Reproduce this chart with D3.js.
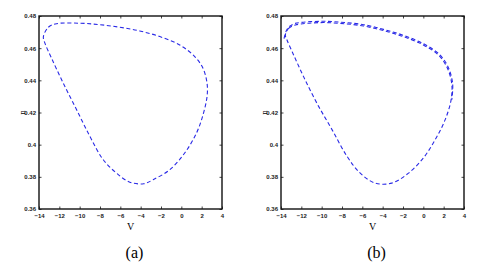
<!DOCTYPE html>
<html>
<head>
<meta charset="utf-8">
<script src="https://cdn.jsdelivr.net/npm/d3@7"></script>
<style>
  body { margin: 0; background: #fff; }
  .tick text { font-family: "Liberation Sans", Arial, sans-serif; font-weight: bold; font-size: 6px; fill: #222; }
</style>
</head>
<body>
<svg width="485" height="268"></svg>
<script>
// V and n, panel (a)
const loopA = [
    {v: -13.57, n: 0.4670}, {v: -13.08, n: 0.4730}, {v: -12.27, n: 0.4752},
    {v: -9.97, n: 0.4755}, {v: -8.01, n: 0.4746}, {v: -6.05, n: 0.4730},
    {v: -4.09, n: 0.4707}, {v: -2.12, n: 0.4672}, {v: -0.16, n: 0.4620},
    {v: 1.31, n: 0.4548}, {v: 2.13, n: 0.4475}, {v: 2.53, n: 0.4382},
    {v: 2.53, n: 0.4300}, {v: 2.13, n: 0.4185}, {v: 1.48, n: 0.4071},
    {v: 0.33, n: 0.3948}, {v: -1.14, n: 0.3844}, {v: -2.78, n: 0.3782},
    {v: -3.70, n: 0.3757}, {v: -5.07, n: 0.3767}, {v: -6.38, n: 0.3823},
    {v: -7.68, n: 0.3906}, {v: -8.99, n: 0.4051}, {v: -10.30, n: 0.4217},
    {v: -11.61, n: 0.4382}, {v: -12.76, n: 0.4537}, {v: -13.41, n: 0.4630}
];

// panel (b), main loop
const loopB = [
    {v: -13.57, n: 0.4682}, {v: -13.25, n: 0.4723}, {v: -12.59, n: 0.4744},
    {v: -10.14, n: 0.4759}, {v: -8.18, n: 0.4754}, {v: -5.88, n: 0.4738},
    {v: -3.92, n: 0.4709}, {v: -1.96, n: 0.4672}, {v: 0.0, n: 0.4620},
    {v: 1.47, n: 0.4558}, {v: 2.30, n: 0.4485}, {v: 2.79, n: 0.4382},
    {v: 2.73, n: 0.4279}, {v: 2.14, n: 0.4154}, {v: 1.16, n: 0.4030},
    {v: 0.0, n: 0.3917}, {v: -1.46, n: 0.3823}, {v: -3.10, n: 0.3761},
    {v: -4.73, n: 0.3761}, {v: -6.21, n: 0.3823}, {v: -7.50, n: 0.3927},
    {v: -8.97, n: 0.4092}, {v: -10.47, n: 0.4258}, {v: -11.78, n: 0.4423},
    {v: -12.76, n: 0.4558}, {v: -13.41, n: 0.4651}
];

// panel (b), second pass that splits off along the top
const passB = [
    {v: -13.70, n: 0.4660}, {v: -13.45, n: 0.4712}, {v: -13.10, n: 0.4738},
    {v: -12.60, n: 0.4754}, {v: -10.14, n: 0.4767}, {v: -8.18, n: 0.4762},
    {v: -5.88, n: 0.4746}, {v: -3.92, n: 0.4717}, {v: -1.96, n: 0.4680},
    {v: 0.0, n: 0.4628}, {v: 1.55, n: 0.4563}, {v: 2.40, n: 0.4488},
    {v: 2.88, n: 0.4382}, {v: 2.80, n: 0.4279}
];

const vTicks = [-14, -12, -10, -8, -6, -4, -2, 0, 2, 4];
const nTicks = [0.36, 0.38, 0.4, 0.42, 0.44, 0.46, 0.48];

const svg = d3.select('svg');
const boxTop = 16, boxBottom = 209;

function panel(left, right, curves, closed, caption) {
    const g = svg.append('g');

    const x = d3.scaleLinear().domain([-14, 4]).range([left, right]);
    const y = d3.scaleLinear().domain([0.36, 0.48]).range([boxBottom, boxTop]);

    // ticks inside the box on all four sides, labels only left/bottom
    g.append('g')
        .attr('transform', `translate(0, ${boxBottom})`)
        .call(d3.axisBottom(x).tickValues(vTicks).tickSize(-2.5).tickPadding(5).tickFormat(d3.format('d')))
        .call(a => a.select('.domain').remove());
    g.append('g')
        .attr('transform', `translate(0, ${boxTop})`)
        .call(d3.axisTop(x).tickValues(vTicks).tickSize(-2.5).tickFormat(''))
        .call(a => a.select('.domain').remove());
    g.append('g')
        .attr('transform', `translate(${left}, 0)`)
        .call(d3.axisLeft(y).tickValues(nTicks).tickSize(-2.5).tickPadding(3).tickFormat(d => String(+d.toFixed(2))))
        .call(a => a.select('.domain').remove());
    g.append('g')
        .attr('transform', `translate(${right}, 0)`)
        .call(d3.axisRight(y).tickValues(nTicks).tickSize(-2.5).tickFormat(''))
        .call(a => a.select('.domain').remove());

    g.selectAll('.tick line').attr('stroke', '#444');

    curves.forEach((data, i) => {
        const line = d3.line()
            .x(d => x(d.v))
            .y(d => y(d.n))
            .curve(closed[i] ? d3.curveCatmullRomClosed : d3.curveCatmullRom);
        g.append('path')
            .datum(data)
            .attr('fill', 'none')
            .attr('stroke', '#2a2ae6')
            .attr('stroke-width', 1.1)
            .attr('stroke-dasharray', '4,2.6')
            .attr('d', line);
    });

    // box
    g.append('rect')
        .attr('x', left).attr('y', boxTop)
        .attr('width', right - left).attr('height', boxBottom - boxTop)
        .attr('fill', 'none').attr('stroke', '#111').attr('stroke-width', 1.4);

    const mid = (left + right) / 2;
    g.append('text')
        .attr('x', mid).attr('y', 230)
        .attr('text-anchor', 'middle')
        .style('font-family', '"Liberation Serif", "DejaVu Serif", serif')
        .style('font-size', '10px')
        .text('V');
    g.append('text')
        .attr('transform', `translate(${left - 17}, ${y(0.42)}) rotate(-90)`)
        .attr('text-anchor', 'middle')
        .attr('dy', '0.35em')
        .style('font-family', '"Liberation Serif", "DejaVu Serif", serif')
        .style('font-size', '9px')
        .text('n');
    g.append('text')
        .attr('x', mid + 4).attr('y', 258)
        .attr('text-anchor', 'middle')
        .style('font-family', '"Liberation Serif", "DejaVu Serif", serif')
        .style('font-size', '16px')
        .text(caption);
}

panel(39, 222, [loopA], [true], '(a)');
panel(281, 464, [loopB, passB], [true, false], '(b)');
</script>
</body>
</html>
